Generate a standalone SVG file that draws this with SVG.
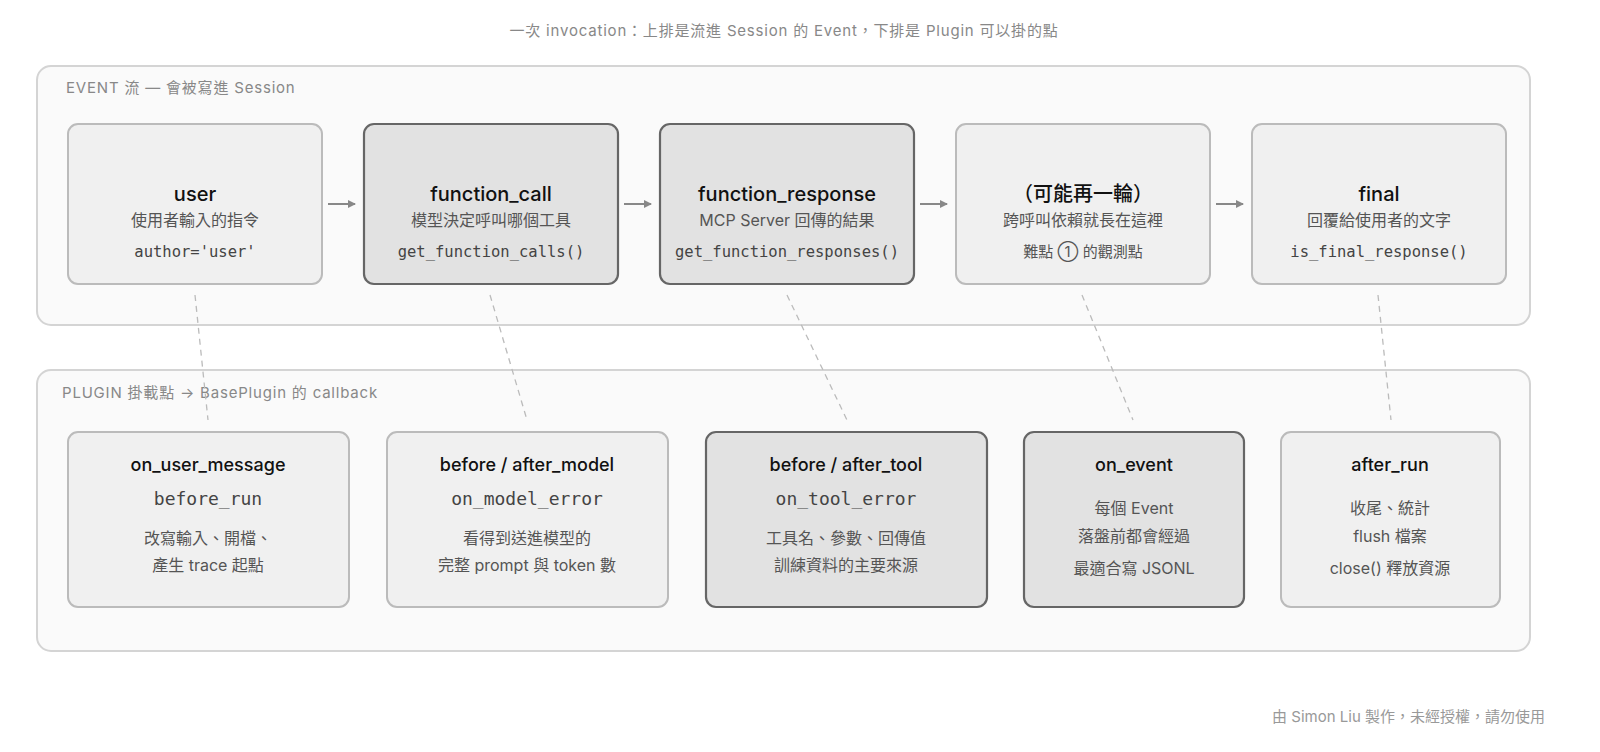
<svg xmlns="http://www.w3.org/2000/svg" width="1600" height="752" viewBox="0 0 1600 752">
<style>
text{font-family:"Inter","Noto Sans CJK TC",sans-serif;text-anchor:middle}
.panel{fill:#fafafa;stroke:#d4d4d4;stroke-width:2}
.n{fill:#f0f0f0;stroke:#bbb;stroke-width:2}
.d{fill:#e2e2e2;stroke:#666;stroke-width:2.2}
.t{font-size:20px;fill:#111;font-weight:500}
.bt{font-size:18px;fill:#111;font-weight:500}
.s{font-size:16px;fill:#555}
.m{font-family:"DejaVu Sans Mono","Liberation Mono",monospace;font-size:15.5px;fill:#444}
.bm{font-family:"DejaVu Sans Mono","Liberation Mono",monospace;font-size:18px;fill:#444}
.lbl{font-size:15px;fill:#888;text-anchor:start;letter-spacing:0.8px}
.dash{stroke:#bbb;stroke-width:1.3;stroke-dasharray:6 5;fill:none}
.arr{stroke:#888;stroke-width:2;fill:none;marker-end:url(#ah)}
</style>
<defs><marker id="ah" markerWidth="8" markerHeight="8" refX="7" refY="4" orient="auto" markerUnits="userSpaceOnUse"><path d="M0,0L8,4L0,8z" fill="#888"/></marker></defs>
<rect width="1600" height="752" fill="#fff"/>
<text x="784" y="36" style="font-size:15px;fill:#888;letter-spacing:0.8px">一次 invocation：上排是流進 Session 的 Event，下排是 Plugin 可以掛的點</text>
<rect class="panel" x="37" y="66" width="1493" height="259" rx="14"/>
<text class="lbl" x="66" y="93">EVENT 流 — 會被寫進 Session</text>
<rect class="panel" x="37" y="370" width="1493" height="281" rx="14"/>
<text class="lbl" x="62" y="398">PLUGIN 掛載點 → BasePlugin 的 callback</text>
<g id="connectors">
<path class="arr" d="M328,204H355"/><path class="arr" d="M624,204H651"/><path class="arr" d="M920,204H947"/><path class="arr" d="M1216,204H1243"/>
<path class="dash" d="M195,295L208,420"/><path class="dash" d="M490,295L527,420"/><path class="dash" d="M787,295L847,420"/><path class="dash" d="M1082,295L1133,420"/><path class="dash" d="M1378,295L1391,420"/>
</g>
<g id="user"><rect class="n" x="68" y="124" width="254" height="160" rx="10"/><text class="t" x="195" y="201">user</text><text class="s" x="195" y="226">使用者輸入的指令</text><text class="m" x="195" y="257">author='user'</text></g>
<g id="function_call"><rect class="d" x="364" y="124" width="254" height="160" rx="10"/><text class="t" x="491" y="201">function_call</text><text class="s" x="491" y="226">模型決定呼叫哪個工具</text><text class="m" x="491" y="257">get_function_calls()</text></g>
<g id="function_response"><rect class="d" x="660" y="124" width="254" height="160" rx="10"/><text class="t" x="787" y="201">function_response</text><text class="s" x="787" y="226">MCP Server 回傳的結果</text><text class="m" x="787" y="257">get_function_responses()</text></g>
<g id="again"><rect class="n" x="956" y="124" width="254" height="160" rx="10"/><text class="t" x="1083" y="201">（可能再一輪）</text><text class="s" x="1083" y="226">跨呼叫依賴就長在這裡</text><text class="s" x="1083" y="257" style="font-size:15px">難點 ① 的觀測點</text></g>
<g id="final"><rect class="n" x="1252" y="124" width="254" height="160" rx="10"/><text class="t" x="1379" y="201">final</text><text class="s" x="1379" y="226">回覆給使用者的文字</text><text class="m" x="1379" y="257">is_final_response()</text></g>
<g id="on_user_message"><rect class="n" x="68" y="432" width="281" height="175" rx="10"/><text class="bt" x="208" y="471">on_user_message</text><text class="bm" x="208" y="505">before_run</text><text class="s" x="208" y="544">改寫輸入、開檔、</text><text class="s" x="208" y="571">產生 trace 起點</text></g>
<g id="model"><rect class="n" x="387" y="432" width="281" height="175" rx="10"/><text class="bt" x="527" y="471">before / after_model</text><text class="bm" x="527" y="505">on_model_error</text><text class="s" x="527" y="544">看得到送進模型的</text><text class="s" x="527" y="571">完整 prompt 與 token 數</text></g>
<g id="tool"><rect class="d" x="706" y="432" width="281" height="175" rx="10"/><text class="bt" x="846" y="471">before / after_tool</text><text class="bm" x="846" y="505">on_tool_error</text><text class="s" x="846" y="544">工具名、參數、回傳值</text><text class="s" x="846" y="571">訓練資料的主要來源</text></g>
<g id="on_event"><rect class="d" x="1024" y="432" width="220" height="175" rx="10"/><text class="bt" x="1134" y="471">on_event</text><text class="s" x="1134" y="514">每個 Event</text><text class="s" x="1134" y="542">落盤前都會經過</text><text class="s" x="1134" y="574">最適合寫 JSONL</text></g>
<g id="after_run"><rect class="n" x="1281" y="432" width="219" height="175" rx="10"/><text class="bt" x="1390" y="471">after_run</text><text class="s" x="1390" y="514">收尾、統計</text><text class="s" x="1390" y="542">flush 檔案</text><text class="s" x="1390" y="574">close() 釋放資源</text></g>
<text x="1545" y="722" style="font-size:15px;fill:#999;text-anchor:end">由 Simon Liu 製作，未經授權，請勿使用</text>
</svg>
